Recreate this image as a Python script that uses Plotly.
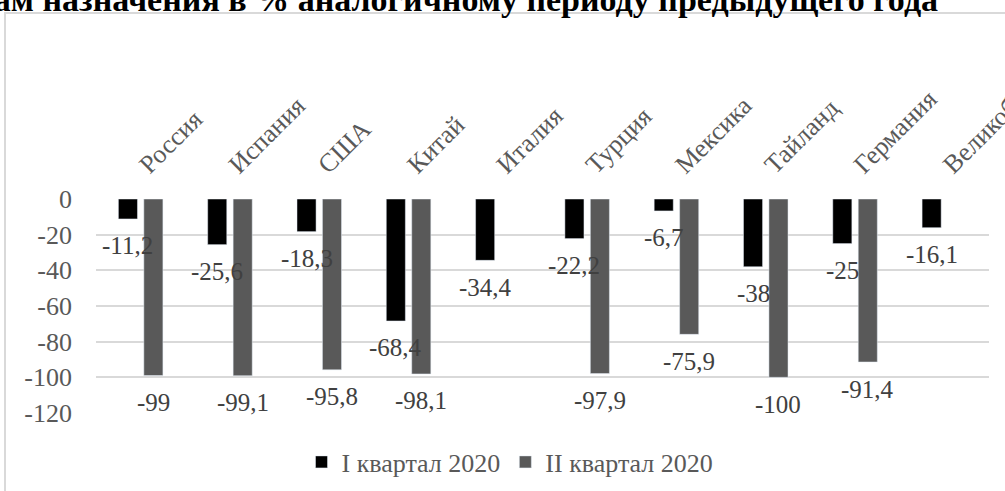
import plotly.graph_objects as go

countries = ['Россия', 'Испания', 'США', 'Китай', 'Италия', 'Турция',
             'Мексика', 'Тайланд', 'Германия', 'Великобритания']
q1 = [-11.2, -25.6, -18.3, -68.4, -34.4, -22.2, -6.7, -38, -25, -16.1]
q2 = [-99, -99.1, -95.8, -98.1, None, -97.9, -75.9, -100, -91.4, None]
series_names = ['I квартал 2020', 'II квартал 2020']
y_ticks = [0, -20, -40, -60, -80, -100, -120]
title_text = 'по странам назначения в % аналогичному периоду предыдущего года'


def lab(v):
    return ('%g' % v).replace('.', ',')


font = 'Liberation Serif'
W0, W1 = 96, 989
T, B = 199, 413
pw, ph = W1 - W0, B - T
bargap = 0.43
slot = pw / len(countries) * (1 - bargap) / 2


def px(x):
    return (x - W0) / pw


def py(y):
    return (B - y) / ph


fig = go.Figure()
annots = []
series = [(series_names[0], q1, '#000000'), (series_names[1], q2, '#595959')]
for i, (name, vals, col) in enumerate(series):
    fig.add_trace(go.Bar(x=countries, y=vals, name=name, marker_color=col))
    for c, v in zip(countries, vals):
        if v is None:
            continue
        annots.append(dict(x=c, y=v, xref='x', yref='y', text=lab(v), showarrow=False,
                           xshift=(i - 0.5) * slot, yshift=-27, yanchor='middle',
                           font=dict(family=font, size=25, color='#404040')))

# title of the figure, its top is cut off by the picture edge
annots.append(dict(text='<b>' + title_text + '</b>', xref='paper', yref='paper',
                   x=px(940), xanchor='right', y=py(20), yanchor='bottom',
                   showarrow=False, font=dict(family=font, size=34, color='#000000')))

fig.update_layout(
    width=1005, height=491,
    margin=dict(l=W0, r=1005 - W1, t=T, b=491 - B, autoexpand=False),
    plot_bgcolor='white', paper_bgcolor='white',
    barmode='group', bargap=bargap, bargroupgap=0.25,
    font=dict(family=font, size=26, color='#595959'),
    showlegend=True,
    legend=dict(orientation='h', x=px(510), xanchor='center', y=py(462), yanchor='middle',
                font=dict(family=font, size=26, color='#595959'), itemwidth=30,
                traceorder='normal'),
    xaxis=dict(side='top', tickangle=-45, showgrid=False, showline=False,
               ticks='', tickfont=dict(family=font, size=26, color='#595959'),
               ticklabelstandoff=14, automargin=False),
    yaxis=dict(range=[-120, 0], tickvals=y_ticks, ticktext=[str(v) for v in y_ticks],
               showgrid=True, gridcolor='#d9d9d9', gridwidth=1.5, zeroline=False,
               showline=False, ticks='', tickfont=dict(family=font, size=26, color='#595959'),
               ticklabelstandoff=23, automargin=False),
    shapes=[dict(type='rect', xref='paper', yref='paper', x0=px(5), x1=px(1030),
                 y0=py(13), y1=py(520), line=dict(color='#d9d9d9', width=2),
                 layer='below')],
    annotations=annots,
)

fig.write_html('out.html', config={'displayModeBar': False},
               post_script="document.body.style.margin='0';")
